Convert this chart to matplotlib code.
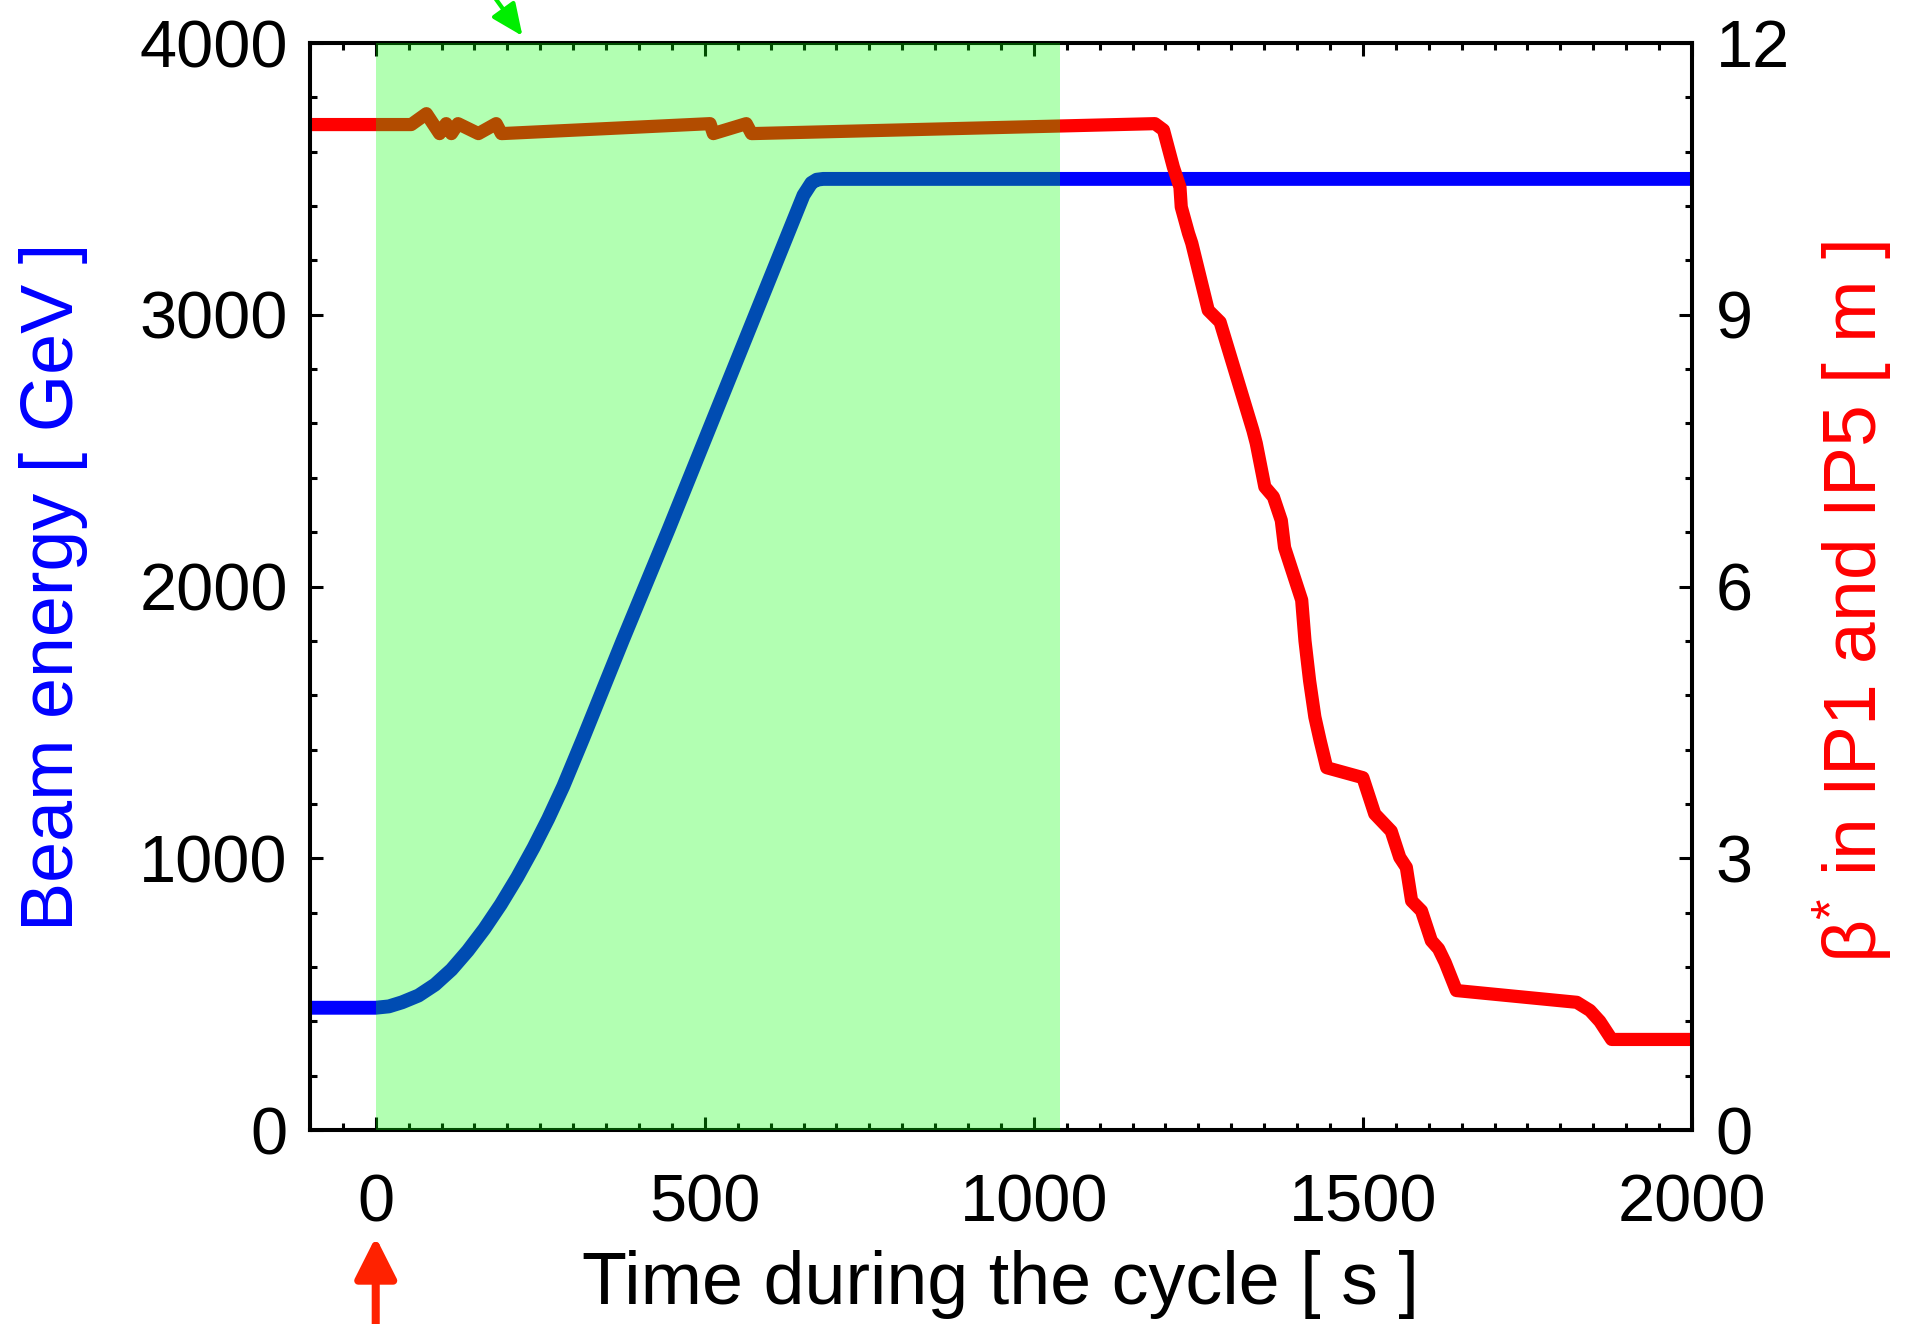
import matplotlib
matplotlib.use("Agg")
import matplotlib.pyplot as plt
from matplotlib.ticker import MultipleLocator

plt.rcParams['font.family'] = ['Liberation Sans', 'DejaVu Sans']

# beam energy during the cycle [GeV]
t_energia = [-100, 0, 20, 40, 65, 90, 115, 140, 165, 190, 215, 240, 262, 285, 315, 345,
             375, 410, 445, 480, 515, 550, 585, 620, 650, 662, 670, 680, 2000]
energia = [450, 450, 455, 470, 495, 535, 590, 660, 740, 830, 930, 1040, 1145, 1265, 1440, 1620,
           1800, 2005, 2210, 2420, 2630, 2840, 3050, 3260, 3440, 3485, 3497, 3500, 3500]

# beta* in IP1 and IP5 [m]
t_beta = [-100, 54, 77, 97, 107, 115, 125, 156, 183, 191, 508, 513, 563, 571, 1184, 1197,
          1212, 1222, 1224, 1235, 1240, 1265, 1283, 1333, 1338, 1351, 1364, 1376, 1381,
          1407, 1412, 1419, 1427, 1435, 1445, 1500, 1518, 1543, 1556, 1566, 1574, 1589,
          1604, 1615, 1625, 1642, 1825, 1845, 1860, 1878, 2000]
beta = [11.10, 11.10, 11.22, 11.00, 11.11, 11.00, 11.11, 11.00, 11.11, 11.00, 11.11, 11.00, 11.11, 11.00, 11.11, 11.04,
        10.63, 10.41, 10.19, 9.90, 9.79, 9.05, 8.92, 7.72, 7.58, 7.10, 6.99, 6.73, 6.43,
        5.85, 5.40, 4.96, 4.56, 4.30, 4.00, 3.89, 3.49, 3.30, 3.01, 2.90, 2.53, 2.42,
        2.09, 2.00, 1.85, 1.54, 1.41, 1.32, 1.20, 1.00, 1.00]

# zona sombreada y flechas
zona = (0, 1040)
t_flecha_verde = 223
t_flecha_roja = 0

fig = plt.figure(figsize=(19.06, 13.24), dpi=100)
ax1 = fig.add_axes([0.1626, 0.1465, 0.7251, 0.821])
ax2 = ax1.twinx()

ax1.plot(t_energia, energia, color=(0, 0, 1), lw=10, solid_joinstyle='round', solid_capstyle='butt')
ax2.plot(t_beta, beta, color=(1, 0, 0), lw=9.5, solid_joinstyle='round', solid_capstyle='butt')
ax2.axvspan(zona[0], zona[1], color=(0, 1, 0), alpha=0.30, lw=0, zorder=5)

ax1.set_xlim(-100, 2000)
ax1.set_ylim(0, 4000)
ax2.set_ylim(0, 12)

ax1.xaxis.set_major_locator(MultipleLocator(500))
ax1.xaxis.set_minor_locator(MultipleLocator(50))
ax1.yaxis.set_major_locator(MultipleLocator(1000))
ax1.yaxis.set_minor_locator(MultipleLocator(200))
ax2.yaxis.set_major_locator(MultipleLocator(3))
ax2.yaxis.set_minor_locator(MultipleLocator(0.6))

for a in (ax1, ax2):
    for s in a.spines.values():
        s.set_linewidth(2.9)
ax1.tick_params(which='both', direction='in', width=2.2, top=True, right=False)
ax1.tick_params(which='major', length=9.5)
ax1.tick_params(which='minor', length=5)
ax1.tick_params(axis='x', pad=31, labelsize=48)
ax1.tick_params(axis='y', pad=16, labelsize=48)
ax2.tick_params(which='both', direction='in', width=2.2, left=False, right=True)
ax2.tick_params(which='major', length=9.5)
ax2.tick_params(which='minor', length=5)
ax2.tick_params(axis='y', pad=17, labelsize=48)

ax1.set_xlabel("Time during the cycle [ s ]", fontsize=53)
ax1.xaxis.set_label_coords(0.5, -0.11)
ax1.set_ylabel("Beam energy [ GeV ]", fontsize=53, color=(0, 0, 1))
ax1.yaxis.set_label_coords(-0.1606, 0.5)
ax2.set_ylabel(r"$\mathregular{\beta^{*}}$ in IP1 and IP5 [ m ]", fontsize=54, color=(1, 0, 0))
ax2.yaxis.set_label_coords(1.086, 0.486)

ax2.annotate('', xy=(t_flecha_verde, 1288), xycoords=('data', 'figure pixels'),
             xytext=(166, 1340), textcoords=('data', 'figure pixels'),
             arrowprops=dict(arrowstyle='-|>,head_length=0.97,head_width=0.43', color='#00ee00',
                             lw=3, shrinkA=0, shrinkB=0, mutation_scale=20),
             annotation_clip=False)
ax2.annotate('', xy=(t_flecha_roja, 87), xycoords=('data', 'figure pixels'),
             xytext=(t_flecha_roja, -10), textcoords=('data', 'figure pixels'),
             arrowprops=dict(arrowstyle='-|>,head_length=1.25,head_width=0.63', color='#ff2200',
                             lw=5.8, shrinkA=0, shrinkB=0, mutation_scale=20),
             annotation_clip=False)

fig.savefig("out.png", dpi=100)
